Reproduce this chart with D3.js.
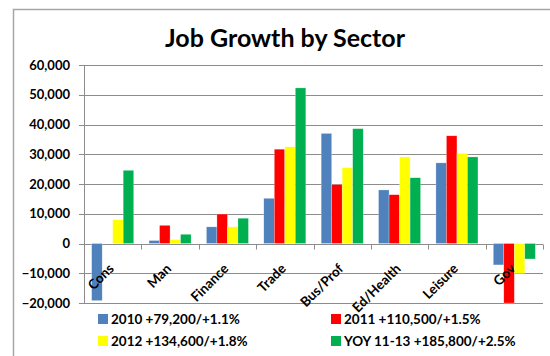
<!DOCTYPE html>
<html>
<head>
<meta charset="utf-8">
<script src="https://cdn.jsdelivr.net/npm/d3@7"></script>
<style>
  body { margin: 0; background: #fff; }
  svg { display: block; font-family: Lato, "Open Sans", sans-serif; }
  .grid line { stroke: #8c8c8c; stroke-width: 1; }
  .ylab { font-size: 13px; font-weight: bold; fill: #000; }
  .xlab { font-size: 13.5px; font-weight: bold; fill: #000; }
  .leg { font-size: 13.5px; font-weight: bold; fill: #000; }
</style>
</head>
<body>
<div id="chart"></div>
<script>
// chart data
const categories = ["Cons", "Man", "Finance", "Trade", "Bus/Prof", "Ed/Health", "Leisure", "Gov"];
const seriesNames = ["2010 +79,200/+1.1%", "2011 +110,500/+1.5%", "2012 +134,600/+1.8%", "YOY 11-13 +185,800/+2.5%"];
const seriesColors = ["#4f81bd", "#ff0000", "#ffff00", "#00b050"];
const values2010 = [-19200, 1000, 5600, 15200, 37000, 18000, 27100, -7200];
const values2011 = [0, 6100, 9900, 31700, 19800, 16400, 36200, -20000];
const values2012 = [8000, 1300, 5600, 32500, 25500, 29100, 30300, -10000];
const valuesYoy = [24600, 3100, 8500, 52300, 38600, 22100, 29100, -5200];
const yTicks = [-20000, -10000, 0, 10000, 20000, 30000, 40000, 50000, 60000];

const seriesValues = [values2010, values2011, values2012, valuesYoy];

const W = 550, H = 356;
const plot = { left: 84, right: 543, top: 65, bottom: 303 };

const svg = d3.select("#chart").append("svg")
    .attr("width", W)
    .attr("height", H);

// chart frame (only top/left edges visible in the crop)
svg.append("rect")
    .attr("x", 13.5).attr("y", 9.5)
    .attr("width", 600).attr("height", 400)
    .attr("fill", "none")
    .attr("stroke", "#a6a6a6")
    .attr("stroke-width", 1.5);

svg.append("text")
    .attr("x", 285).attr("y", 47)
    .attr("text-anchor", "middle")
    .style("font-size", "25px")
    .style("font-weight", "bold")
    .attr("fill", "#000")
    .text("Job Growth by Sector");

const x = d3.scaleBand()
    .domain(categories)
    .range([plot.left, plot.right]);

const xs = d3.scaleBand()
    .domain(d3.range(seriesNames.length))
    .range([0, x.bandwidth()])
    .paddingOuter(0.73);

const y = d3.scaleLinear()
    .domain([-20000, 60000])
    .range([plot.bottom, plot.top]);

// gridlines
svg.append("g").attr("class", "grid")
    .selectAll("line")
    .data(yTicks)
    .join("line")
    .attr("x1", plot.left - 5).attr("x2", plot.right)
    .attr("y1", d => Math.round(y(d)) + 0.5)
    .attr("y2", d => Math.round(y(d)) + 0.5);

// left axis line
svg.append("line")
    .attr("x1", plot.left + 0.5).attr("x2", plot.left + 0.5)
    .attr("y1", plot.top).attr("y2", plot.bottom + 1)
    .attr("stroke", "#8c8c8c");

svg.selectAll(".ylab")
    .data(yTicks)
    .join("text")
    .attr("class", "ylab")
    .attr("x", plot.left - 14)
    .attr("y", d => y(d))
    .attr("dy", "0.36em")
    .attr("text-anchor", "end")
    .text(d => d3.format(",")(d));

// bars
const groups = svg.append("g").selectAll("g")
    .data(seriesValues)
    .join("g")
    .attr("fill", (d, i) => seriesColors[i]);

groups.each(function(vals, si) {
    d3.select(this).selectAll("rect")
        .data(vals)
        .join("rect")
        .attr("x", (v, ci) => x(categories[ci]) + xs(si))
        .attr("width", xs.bandwidth())
        .attr("y", v => y(Math.max(0, v)))
        .attr("height", v => Math.abs(y(v) - y(0)))
        .attr("stroke", "#ffffff")
        .attr("stroke-opacity", 0.5)
        .attr("stroke-width", 0.5);
});

// category ticks on the zero line
const zeroY = Math.round(y(0)) + 0.5;
svg.append("g").selectAll("line")
    .data(d3.range(categories.length + 1))
    .join("line")
    .attr("x1", i => Math.round(plot.left + i * x.step()) + 0.5)
    .attr("x2", i => Math.round(plot.left + i * x.step()) + 0.5)
    .attr("y1", zeroY).attr("y2", zeroY + 5)
    .attr("stroke", "#8c8c8c");

// rotated category labels
svg.selectAll(".xlab")
    .data(categories)
    .join("text")
    .attr("class", "xlab")
    .attr("text-anchor", "end")
    .attr("transform", d => `translate(${x(d) + x.bandwidth() / 2 + 2},${zeroY + 25}) rotate(-45)`)
    .text(d => d);

// legend
const legendPos = [[98, 319], [331, 319], [98, 341], [331, 341]];
const leg = svg.append("g").selectAll("g")
    .data(seriesNames)
    .join("g")
    .attr("transform", (d, i) => `translate(${legendPos[i][0]},${legendPos[i][1]})`);

leg.append("rect")
    .attr("x", 0).attr("y", -5)
    .attr("width", 10).attr("height", 10)
    .attr("fill", (d, i) => seriesColors[i]);

leg.append("text")
    .attr("class", "leg")
    .attr("x", 13)
    .attr("dy", "0.36em")
    .text(d => d);
</script>
</body>
</html>
